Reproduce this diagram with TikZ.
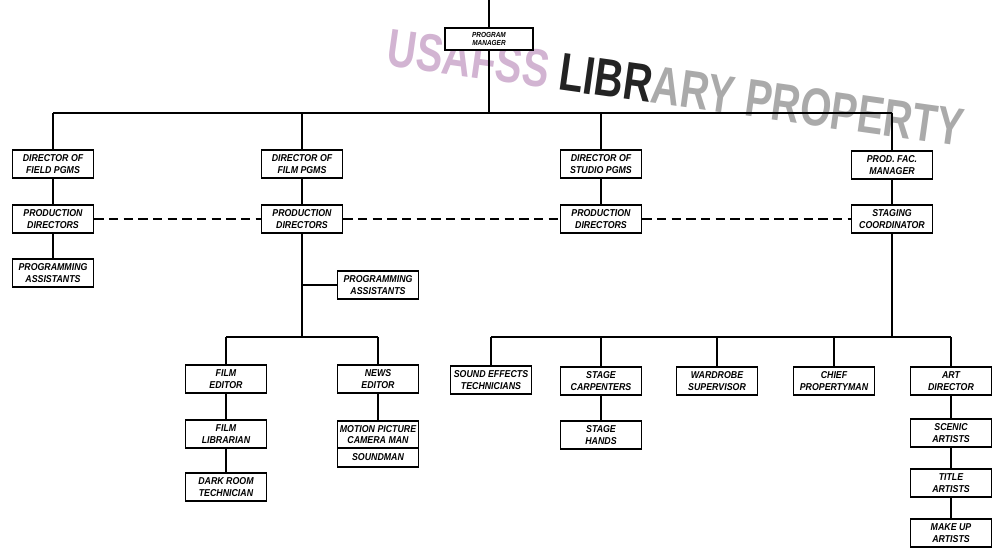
\documentclass[tikz,border=0pt]{standalone}
\usepackage{fontspec}
\setmainfont{Liberation Sans}
\newfontfamily\chartfont{Liberation Sans}[FakeStretch=0.88]
\newfontfamily\stampfont{Liberation Sans}[FakeStretch=0.75]

\begin{document}
\begin{tikzpicture}[x=0.75pt,y=0.75pt,yscale=-1,
  post/.style={draw, line width=1pt, minimum width=61pt, minimum height=21pt, inner sep=1pt, align=center, font=\chartfont\bfseries\itshape\fontsize{7.5}{8.5}\selectfont},
  link/.style={line width=1pt},
  liaison/.style={line width=1pt, dash pattern=on 7pt off 4pt}]
\useasboundingbox (0,0) rectangle (999,557);

%Stamp across the top
\node (stamp) at (676,88) [rotate=-8, font=\stampfont\bfseries\fontsize{40}{40}\selectfont] {\textcolor[RGB]{210,180,210}{USAFSS} \textcolor[RGB]{35,35,35}{LIBR}\textcolor[RGB]{170,170,170}{ARY PROPERTY}};

%Program manager
\coordinate (top) at (489,0);
\node [post, fill=white, minimum width=66pt, minimum height=16.5pt, font=\chartfont\bfseries\itshape\fontsize{5.5}{6}\selectfont] (pm) at (489,39) {PROGRAM\\MANAGER};
\coordinate (bus) at (489,113);

%Field programs
\node [post] (field) at (53,164) {DIRECTOR OF\\FIELD PGMS};
\node [post] (fieldpd) at (53,219) {PRODUCTION\\DIRECTORS};
\node [post] (fieldpa) at (53,273) {PROGRAMMING\\ASSISTANTS};

%Film programs
\node [post] (film) at (302,164) {DIRECTOR OF\\FILM PGMS};
\node [post] (filmpd) at (302,219) {PRODUCTION\\DIRECTORS};
\node [post] (filmpa) at (378,285) {PROGRAMMING\\ASSISTANTS};
\coordinate (filmbus) at (302,337);
\node [post] (filmed) at (226,379) {FILM\\EDITOR};
\node [post] (filmlib) at (226,434) {FILM\\LIBRARIAN};
\node [post] (darkroom) at (226,487) {DARK ROOM\\TECHNICIAN};
\node [post] (newsed) at (378,379) {NEWS\\EDITOR};
\node [post, minimum height=20.25pt] (camera) at (378,434.5) {MOTION PICTURE\\CAMERA MAN};
\node [post, minimum height=14.25pt] (sound) at (378,457.5) {SOUNDMAN};

%Studio programs
\node [post] (studio) at (601,164) {DIRECTOR OF\\STUDIO PGMS};
\node [post] (studiopd) at (601,219) {PRODUCTION\\DIRECTORS};

%Production facilities
\node [post] (pfm) at (892,165) {PROD. FAC.\\MANAGER};
\node [post] (stg) at (892,219) {STAGING\\COORDINATOR};
\coordinate (stgbus) at (892,337);
\node [post] (sfx) at (491,380) {SOUND EFFECTS\\TECHNICIANS};
\node [post] (carp) at (601,381) {STAGE\\CARPENTERS};
\node [post] (hands) at (601,435) {STAGE\\HANDS};
\node [post] (ward) at (717,381) {WARDROBE\\SUPERVISOR};
\node [post] (prop) at (834,381) {CHIEF\\PROPERTYMAN};
\node [post] (art) at (951,381) {ART\\DIRECTOR};
\node [post] (scenic) at (951,433) {SCENIC\\ARTISTS};
\node [post] (title) at (951,483) {TITLE\\ARTISTS};
\node [post] (makeup) at (951,533) {MAKE UP\\ARTISTS};

%Top lines
\draw [link] (top) -- (pm);
\draw [link] (pm) -- (bus);
\draw [link] (bus -| field) -- (bus -| pfm);
\draw [link] (bus -| field) -- (field);
\draw [link] (bus -| film) -- (film);
\draw [link] (bus -| studio) -- (studio);
\draw [link] (bus -| pfm) -- (pfm);

%Column lines
\draw [link] (field) -- (fieldpd);
\draw [link] (fieldpd) -- (fieldpa);
\draw [link] (film) -- (filmpd);
\draw [link] (filmpd) -- (filmbus);
\draw [link] (filmpa.west) -- (filmpa.west -| filmpd);
\draw [link] (filmbus -| filmed) -- (filmbus -| newsed);
\draw [link] (filmbus -| filmed) -- (filmed);
\draw [link] (filmbus -| newsed) -- (newsed);
\draw [link] (filmed) -- (filmlib);
\draw [link] (filmlib) -- (darkroom);
\draw [link] (newsed) -- (camera);
\draw [link] (studio) -- (studiopd);
\draw [link] (pfm) -- (stg);
\draw [link] (stg) -- (stgbus);
\draw [link] (stgbus -| sfx) -- (stgbus -| art);
\foreach \n in {sfx,carp,ward,prop,art}
  \draw [link] (stgbus -| \n) -- (\n);
\draw [link] (carp) -- (hands);
\draw [link] (art) -- (scenic);
\draw [link] (scenic) -- (title);
\draw [link] (title) -- (makeup);

%Dashed liaison
\draw [liaison] (fieldpd) -- (filmpd);
\draw [liaison] (filmpd) -- (studiopd);
\draw [liaison] (studiopd) -- (stg);

\end{tikzpicture}
\end{document}
